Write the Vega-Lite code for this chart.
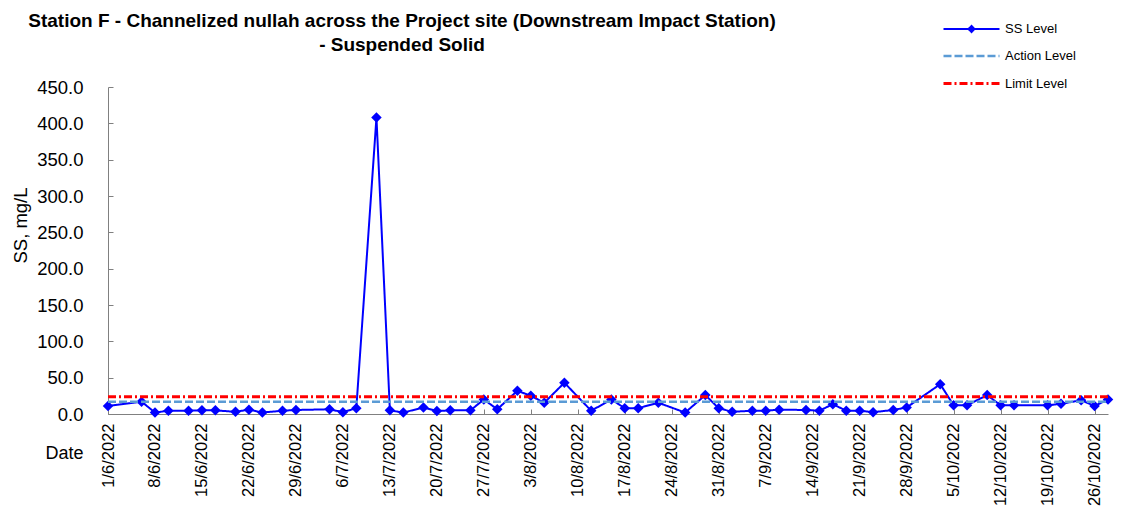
{
  "$schema": "https://vega.github.io/schema/vega-lite/v6.json",
  "autosize": "none",
  "width": 1000,
  "height": 327,
  "padding": {"left": 108, "top": 87, "right": 26, "bottom": 100},
  "background": "white",
  "config": {
    "font": "Liberation Sans",
    "view": {"stroke": null},
    "axis": {"grid": false, "domainColor": "#808080", "tickColor": "#808080", "labelColor": "black", "titleColor": "black", "titleFontWeight": "normal", "labelFont": "Liberation Sans", "titleFont": "Liberation Sans"}
  },
  "title": {
    "text": ["Station F - Channelized nullah across the Project site (Downstream Impact Station)", "- Suspended Solid"],
    "anchor": "middle",
    "dx": -206,
    "dy": 37,
    "offset": 0,
    "fontSize": 19,
    "fontWeight": "bold",
    "font": "Liberation Sans",
    "lineHeight": 24,
    "color": "black"
  },
  "data": {"values": [
    {"date": "2022-06-01", "SS Level": 11, "Action Level": 17.0, "Limit Level": 23.8},
    {"date": "2022-06-06", "SS Level": 17, "Action Level": 17.0, "Limit Level": 23.8},
    {"date": "2022-06-08", "SS Level": 2, "Action Level": 17.0, "Limit Level": 23.8},
    {"date": "2022-06-10", "SS Level": 4.5, "Action Level": 17.0, "Limit Level": 23.8},
    {"date": "2022-06-13", "SS Level": 4.5, "Action Level": 17.0, "Limit Level": 23.8},
    {"date": "2022-06-15", "SS Level": 5, "Action Level": 17.0, "Limit Level": 23.8},
    {"date": "2022-06-17", "SS Level": 5, "Action Level": 17.0, "Limit Level": 23.8},
    {"date": "2022-06-20", "SS Level": 3, "Action Level": 17.0, "Limit Level": 23.8},
    {"date": "2022-06-22", "SS Level": 6, "Action Level": 17.0, "Limit Level": 23.8},
    {"date": "2022-06-24", "SS Level": 2, "Action Level": 17.0, "Limit Level": 23.8},
    {"date": "2022-06-27", "SS Level": 4.5, "Action Level": 17.0, "Limit Level": 23.8},
    {"date": "2022-06-29", "SS Level": 5.5, "Action Level": 17.0, "Limit Level": 23.8},
    {"date": "2022-07-04", "SS Level": 6.5, "Action Level": 17.0, "Limit Level": 23.8},
    {"date": "2022-07-06", "SS Level": 2.5, "Action Level": 17.0, "Limit Level": 23.8},
    {"date": "2022-07-08", "SS Level": 8, "Action Level": 17.0, "Limit Level": 23.8},
    {"date": "2022-07-11", "SS Level": 408, "Action Level": 17.0, "Limit Level": 23.8},
    {"date": "2022-07-13", "SS Level": 5, "Action Level": 17.0, "Limit Level": 23.8},
    {"date": "2022-07-15", "SS Level": 2, "Action Level": 17.0, "Limit Level": 23.8},
    {"date": "2022-07-18", "SS Level": 9, "Action Level": 17.0, "Limit Level": 23.8},
    {"date": "2022-07-20", "SS Level": 4, "Action Level": 17.0, "Limit Level": 23.8},
    {"date": "2022-07-22", "SS Level": 5, "Action Level": 17.0, "Limit Level": 23.8},
    {"date": "2022-07-25", "SS Level": 5, "Action Level": 17.0, "Limit Level": 23.8},
    {"date": "2022-07-27", "SS Level": 20, "Action Level": 17.0, "Limit Level": 23.8},
    {"date": "2022-07-29", "SS Level": 6.5, "Action Level": 17.0, "Limit Level": 23.8},
    {"date": "2022-08-01", "SS Level": 32, "Action Level": 17.0, "Limit Level": 23.8},
    {"date": "2022-08-03", "SS Level": 25, "Action Level": 17.0, "Limit Level": 23.8},
    {"date": "2022-08-05", "SS Level": 15.5, "Action Level": 17.0, "Limit Level": 23.8},
    {"date": "2022-08-08", "SS Level": 43, "Action Level": 17.0, "Limit Level": 23.8},
    {"date": "2022-08-12", "SS Level": 4.5, "Action Level": 17.0, "Limit Level": 23.8},
    {"date": "2022-08-15", "SS Level": 20, "Action Level": 17.0, "Limit Level": 23.8},
    {"date": "2022-08-17", "SS Level": 8, "Action Level": 17.0, "Limit Level": 23.8},
    {"date": "2022-08-19", "SS Level": 8, "Action Level": 17.0, "Limit Level": 23.8},
    {"date": "2022-08-22", "SS Level": 15.5, "Action Level": 17.0, "Limit Level": 23.8},
    {"date": "2022-08-26", "SS Level": 2, "Action Level": 17.0, "Limit Level": 23.8},
    {"date": "2022-08-29", "SS Level": 26, "Action Level": 17.0, "Limit Level": 23.8},
    {"date": "2022-08-31", "SS Level": 8, "Action Level": 17.0, "Limit Level": 23.8},
    {"date": "2022-09-02", "SS Level": 3, "Action Level": 17.0, "Limit Level": 23.8},
    {"date": "2022-09-05", "SS Level": 4.5, "Action Level": 17.0, "Limit Level": 23.8},
    {"date": "2022-09-07", "SS Level": 4.5, "Action Level": 17.0, "Limit Level": 23.8},
    {"date": "2022-09-09", "SS Level": 6, "Action Level": 17.0, "Limit Level": 23.8},
    {"date": "2022-09-13", "SS Level": 5.5, "Action Level": 17.0, "Limit Level": 23.8},
    {"date": "2022-09-15", "SS Level": 4.5, "Action Level": 17.0, "Limit Level": 23.8},
    {"date": "2022-09-17", "SS Level": 13.5, "Action Level": 17.0, "Limit Level": 23.8},
    {"date": "2022-09-19", "SS Level": 4.5, "Action Level": 17.0, "Limit Level": 23.8},
    {"date": "2022-09-21", "SS Level": 4.5, "Action Level": 17.0, "Limit Level": 23.8},
    {"date": "2022-09-23", "SS Level": 2.5, "Action Level": 17.0, "Limit Level": 23.8},
    {"date": "2022-09-26", "SS Level": 5.5, "Action Level": 17.0, "Limit Level": 23.8},
    {"date": "2022-09-28", "SS Level": 9, "Action Level": 17.0, "Limit Level": 23.8},
    {"date": "2022-10-03", "SS Level": 41, "Action Level": 17.0, "Limit Level": 23.8},
    {"date": "2022-10-05", "SS Level": 12, "Action Level": 17.0, "Limit Level": 23.8},
    {"date": "2022-10-07", "SS Level": 12, "Action Level": 17.0, "Limit Level": 23.8},
    {"date": "2022-10-10", "SS Level": 26, "Action Level": 17.0, "Limit Level": 23.8},
    {"date": "2022-10-12", "SS Level": 12, "Action Level": 17.0, "Limit Level": 23.8},
    {"date": "2022-10-14", "SS Level": 12, "Action Level": 17.0, "Limit Level": 23.8},
    {"date": "2022-10-19", "SS Level": 12, "Action Level": 17.0, "Limit Level": 23.8},
    {"date": "2022-10-21", "SS Level": 14, "Action Level": 17.0, "Limit Level": 23.8},
    {"date": "2022-10-24", "SS Level": 19, "Action Level": 17.0, "Limit Level": 23.8},
    {"date": "2022-10-26", "SS Level": 11, "Action Level": 17.0, "Limit Level": 23.8},
    {"date": "2022-10-28", "SS Level": 20, "Action Level": 17.0, "Limit Level": 23.8}
  ]},
  "transform": [{"fold": ["SS Level", "Action Level", "Limit Level"], "as": ["series", "value"]}],
  "encoding": {
    "x": {
      "field": "date", "type": "temporal",
      "scale": {"type": "utc", "domain": [{"year": 2022, "month": 6, "date": 1, "utc": true}, {"year": 2022, "month": 10, "date": 28, "utc": true}], "nice": false},
      "axis": {
        "title": "Date", "titleFontSize": 18, "titleX": -44, "titleY": 39, "titleAlign": "center", "titleBaseline": "middle", "titleAngle": 0,
        "labelExpr": "utcFormat(datum.value, '%-d/%-m/%Y')", "labelAngle": -90, "labelFontSize": 16.5, "labelAlign": "right", "labelBaseline": "middle",
        "tickSize": -5, "labelPadding": 14, "labelOverlap": false, "labelFlush": false,
        "values": [
          {"year": 2022, "month": 6, "date": 1, "utc": true},
          {"year": 2022, "month": 6, "date": 8, "utc": true},
          {"year": 2022, "month": 6, "date": 15, "utc": true},
          {"year": 2022, "month": 6, "date": 22, "utc": true},
          {"year": 2022, "month": 6, "date": 29, "utc": true},
          {"year": 2022, "month": 7, "date": 6, "utc": true},
          {"year": 2022, "month": 7, "date": 13, "utc": true},
          {"year": 2022, "month": 7, "date": 20, "utc": true},
          {"year": 2022, "month": 7, "date": 27, "utc": true},
          {"year": 2022, "month": 8, "date": 3, "utc": true},
          {"year": 2022, "month": 8, "date": 10, "utc": true},
          {"year": 2022, "month": 8, "date": 17, "utc": true},
          {"year": 2022, "month": 8, "date": 24, "utc": true},
          {"year": 2022, "month": 8, "date": 31, "utc": true},
          {"year": 2022, "month": 9, "date": 7, "utc": true},
          {"year": 2022, "month": 9, "date": 14, "utc": true},
          {"year": 2022, "month": 9, "date": 21, "utc": true},
          {"year": 2022, "month": 9, "date": 28, "utc": true},
          {"year": 2022, "month": 10, "date": 5, "utc": true},
          {"year": 2022, "month": 10, "date": 12, "utc": true},
          {"year": 2022, "month": 10, "date": 19, "utc": true},
          {"year": 2022, "month": 10, "date": 26, "utc": true}
        ]
      }
    },
    "y": {
      "field": "value", "type": "quantitative",
      "scale": {"domain": [0, 450], "nice": false, "zero": true},
      "axis": {
        "title": "SS, mg/L", "titleFontSize": 18.5, "titleX": -88, "titleY": 138, "titleAlign": "center", "titleBaseline": "middle", "titleAngle": -90,
        "values": [0, 50, 100, 150, 200, 250, 300, 350, 400, 450], "format": ".1f", "labelFontSize": 18.5,
        "tickSize": -5, "labelPadding": 30
      }
    }
  },
  "layer": [
    {
      "transform": [{"filter": "datum.series === 'SS Level'"}],
      "mark": {"type": "point", "shape": "diamond", "filled": true, "opacity": 1, "size": 110, "color": "#0000FF"}
    },
    {
      "mark": {"type": "line", "interpolate": "linear"},
      "encoding": {
        "color": {
          "field": "series", "type": "nominal",
          "scale": {"domain": ["SS Level", "Action Level", "Limit Level"], "range": ["#0000FF", "#5B9BD5", "#FF0000"]},
          "legend": {
            "title": null, "orient": "none", "legendX": 852, "legendY": -69, "direction": "vertical",
            "symbolType": "stroke", "symbolSize": 400, "labelFontSize": 13, "labelFont": "Liberation Sans", "labelColor": "black",
            "labelOffset": 22, "rowPadding": 8.5, "padding": 0,
            "encode": {
              "symbols": {"update": {
                "shape": {"signal": "datum.value === 'SS Level' ? 'M-2.8,0H2.8M-0.3,0L0,-0.3L0.3,0L0,0.3Z' : 'M-2.8,0H2.8'"},
                "fill": {"signal": "datum.value === 'SS Level' ? '#0000FF' : 'transparent'"},
                "strokeWidth": {"signal": "datum.value === 'Action Level' ? 3 : 2"}
              }}
            }
          }
        },
        "strokeDash": {
          "field": "series", "type": "nominal",
          "scale": {"domain": ["SS Level", "Action Level", "Limit Level"], "range": [[1, 0], [8, 3], [8, 3, 2, 3]]}
        },
        "strokeWidth": {
          "field": "series", "type": "nominal",
          "scale": {"domain": ["SS Level", "Action Level", "Limit Level"], "range": [2, 3, 1.6]},
          "legend": null
        }
      }
    }
  ]
}
